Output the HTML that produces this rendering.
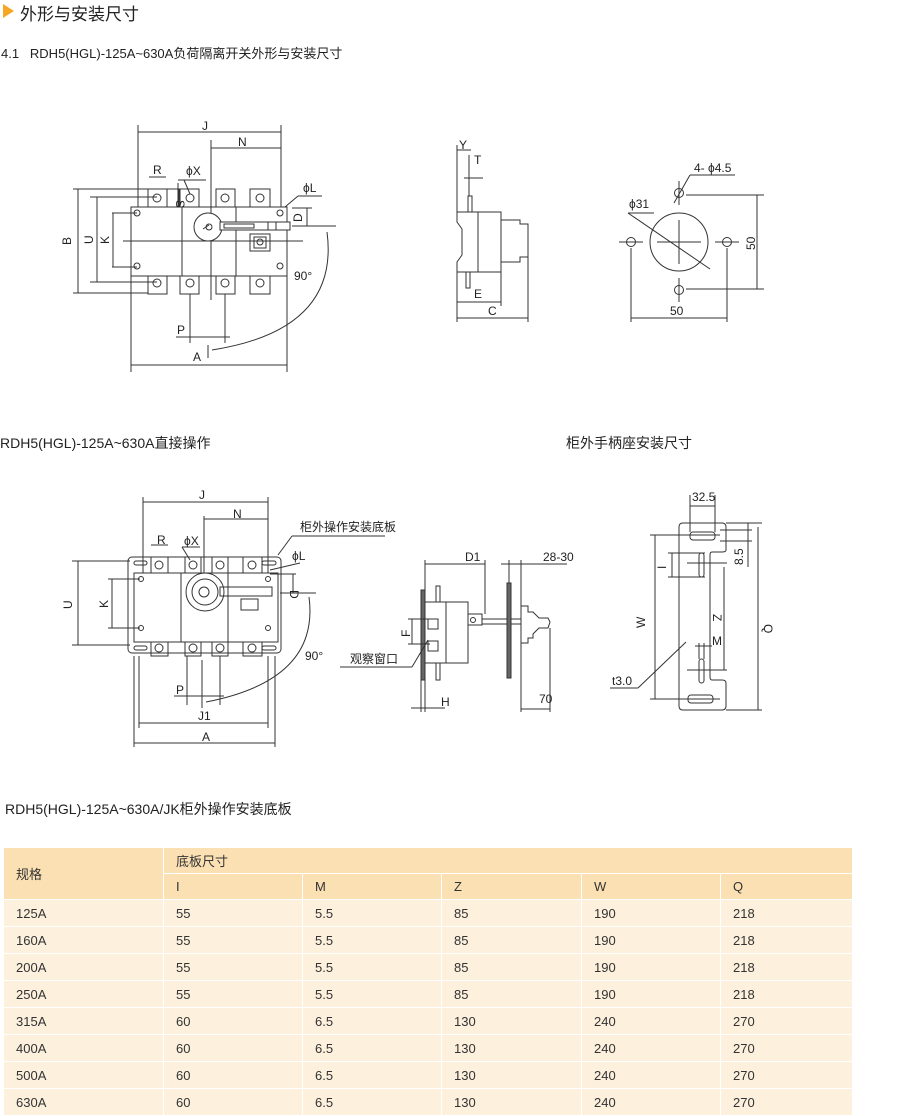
<!DOCTYPE html>
<html><head><meta charset="utf-8"><style>
body{margin:0;width:900px;height:1115px;background:#fff;position:relative;overflow:hidden;font-family:"Liberation Sans","Noto Sans CJK SC",sans-serif;color:#222}
.t{position:absolute;white-space:nowrap}
table{position:absolute;left:3px;top:847px;width:850px;border-collapse:collapse;font-size:13px;color:#333}
td{height:26px;padding:0 0 0 12px;border:1px solid #fff;background:#fdf1de}
tr.h td{background:#fbe0b3;height:25px}
</style></head><body>
<div style="position:absolute;left:3px;top:4px;width:0;height:0;border-top:7px solid transparent;border-bottom:7px solid transparent;border-left:11px solid #f5a623"></div>
<div class="t" style="left:20px;top:0px;font-size:17px">外形与安装尺寸</div>
<div class="t" style="left:1px;top:43px;font-size:13px">4.1&nbsp;&nbsp; RDH5(HGL)-125A~630A负荷隔离开关外形与安装尺寸</div>
<div class="t" style="left:0px;top:433px;font-size:14px">RDH5(HGL)-125A~630A直接操作</div>
<div class="t" style="left:566px;top:433px;font-size:14px">柜外手柄座安装尺寸</div>
<div class="t" style="left:5px;top:799px;font-size:14px">RDH5(HGL)-125A~630A/JK柜外操作安装底板</div>

<svg width="900" height="840" style="position:absolute;left:0;top:0" font-family="Liberation Sans,Noto Sans CJK SC,sans-serif" font-size="12" fill="none" stroke="#333" stroke-width="1">
<!-- Drawing 1 -->
<g>
<rect x="131" y="207" width="156" height="69"/>
<line x1="182" y1="207" x2="182" y2="276"/><line x1="236" y1="207" x2="236" y2="276"/>
<rect x="148" y="189" width="19" height="18"/><rect x="167" y="189" width="12" height="18"/><rect x="180" y="189" width="19" height="18"/><rect x="216" y="189" width="19" height="18"/><rect x="250" y="189" width="20" height="18"/>
<rect x="148" y="276" width="19" height="18"/><rect x="180" y="276" width="19" height="18"/><rect x="216" y="276" width="19" height="18"/><rect x="250" y="276" width="20" height="18"/>
<circle cx="157" cy="198" r="4"/><circle cx="190" cy="198" r="4"/><circle cx="225" cy="198" r="4"/><circle cx="260" cy="198" r="4"/>
<circle cx="157" cy="283" r="4"/><circle cx="190" cy="283" r="4"/><circle cx="225" cy="283" r="4"/><circle cx="260" cy="283" r="4"/>
<circle cx="137" cy="213" r="3"/><circle cx="137" cy="266" r="3"/><circle cx="280" cy="213" r="3"/><circle cx="280" cy="266" r="3"/>
<circle cx="208" cy="227" r="14" fill="#fff"/><circle cx="209" cy="227" r="3"/><line x1="203" y1="229" x2="209" y2="225"/>
<rect x="220" y="222" width="70" height="8" fill="#fff"/><rect x="224" y="224" width="30" height="4"/><line x1="268" y1="222" x2="268" y2="230"/><line x1="276" y1="222" x2="276" y2="230"/>
<rect x="250" y="234" width="20" height="17"/><rect x="254" y="237" width="12" height="11"/><circle cx="260" cy="242" r="3"/>
<line x1="123" y1="241" x2="303" y2="241"/>
<line x1="138" y1="125" x2="138" y2="207"/><line x1="281" y1="125" x2="281" y2="207"/><line x1="138" y1="132" x2="281" y2="132"/>
<line x1="211" y1="140" x2="211" y2="213"/><line x1="211" y1="241" x2="211" y2="300"/><line x1="211" y1="148" x2="281" y2="148"/>
<line x1="149" y1="177" x2="166" y2="177"/><line x1="178" y1="180" x2="206" y2="180"/><line x1="184" y1="180" x2="190" y2="194"/>
<line x1="178" y1="183" x2="178" y2="207"/>
<line x1="73" y1="189" x2="148" y2="189"/><line x1="73" y1="293" x2="148" y2="293"/><line x1="78" y1="189" x2="78" y2="293"/>
<line x1="90" y1="197" x2="157" y2="197"/><line x1="90" y1="282" x2="157" y2="282"/><line x1="97" y1="197" x2="97" y2="282"/>
<line x1="112" y1="213" x2="137" y2="213"/><line x1="112" y1="267" x2="137" y2="267"/><line x1="113" y1="213" x2="113" y2="267"/>
<line x1="292" y1="208" x2="312" y2="208"/><line x1="292" y1="226" x2="336" y2="226"/><line x1="307" y1="208" x2="307" y2="226"/>
<line x1="285" y1="207" x2="298" y2="196"/><line x1="298" y1="196" x2="322" y2="196"/>
<path d="M327 232 Q340 330 212 350"/>
<line x1="190" y1="294" x2="190" y2="343"/><line x1="225" y1="294" x2="225" y2="343"/><line x1="176" y1="337" x2="230" y2="337"/>
<line x1="131" y1="276" x2="131" y2="372"/><line x1="287" y1="276" x2="287" y2="372"/><line x1="131" y1="365" x2="287" y2="365"/>
<line x1="208" y1="345" x2="208" y2="358"/>
</g>
<g fill="#222" stroke="none">
<text x="202" y="130">J</text><text x="238" y="146">N</text><text x="153" y="174">R</text><text x="186" y="175">ϕX</text>
<text x="303" y="192">ϕL</text><text x="294" y="280">90°</text><text x="177" y="334">P</text><text x="193" y="361">A</text>
<text transform="translate(71,245) rotate(-90)">B</text><text transform="translate(93,244) rotate(-90)">U</text><text transform="translate(109,244) rotate(-90)">K</text>
<text transform="translate(302,222) rotate(-90)">D</text><text transform="translate(176,200) rotate(90)">S</text>
</g>
<!-- Drawing 2 side -->
<g>
<path d="M457 212 H501 V272 H457 V262 L462 255 V229 L457 222 Z"/><line x1="478" y1="212" x2="478" y2="272"/>
<path d="M501 220 H520 V224 H528 V257 H520 V262 H501"/>
<rect x="468" y="196" width="4" height="16"/><rect x="466" y="272" width="4" height="16"/>
<line x1="469" y1="155" x2="469" y2="196"/><line x1="457" y1="145" x2="457" y2="212"/><line x1="457" y1="150" x2="471" y2="150"/>
<line x1="464" y1="178" x2="483" y2="178"/>
<line x1="457" y1="272" x2="457" y2="322"/><line x1="501" y1="272" x2="501" y2="306"/><line x1="528" y1="257" x2="528" y2="322"/>
<line x1="457" y1="302" x2="501" y2="302"/><line x1="457" y1="318" x2="528" y2="318"/>
</g>
<g fill="#222" stroke="none"><text x="459" y="149">Y</text><text x="474" y="164">T</text><text x="474" y="298">E</text><text x="488" y="315">C</text></g>
<!-- Drawing 3 -->
<g>
<circle cx="679" cy="242" r="29"/><line x1="657" y1="242" x2="701" y2="242"/><line x1="679" y1="220" x2="679" y2="264"/>
<line x1="628" y1="213" x2="710" y2="269"/><line x1="628" y1="213" x2="654" y2="213"/>
<circle cx="679" cy="193" r="4.5"/><circle cx="631" cy="242" r="4.5"/><circle cx="727" cy="242" r="4.5"/><circle cx="679" cy="290" r="4.5"/>
<line x1="679" y1="181" x2="679" y2="205"/><line x1="619" y1="242" x2="643" y2="242"/><line x1="715" y1="242" x2="739" y2="242"/><line x1="679" y1="278" x2="679" y2="302"/>
<line x1="674" y1="203" x2="690" y2="175"/><line x1="690" y1="175" x2="735" y2="175"/>
<line x1="686" y1="195" x2="764" y2="195"/><line x1="686" y1="289" x2="764" y2="289"/><line x1="757" y1="195" x2="757" y2="289"/>
<line x1="631" y1="248" x2="631" y2="322"/><line x1="727" y1="248" x2="727" y2="322"/><line x1="631" y1="318" x2="727" y2="318"/>
</g>
<g fill="#222" stroke="none"><text x="694" y="172">4- ϕ4.5</text><text x="629" y="208">ϕ31</text><text x="670" y="315">50</text><text transform="translate(755,250) rotate(-90)">50</text></g>
<!-- Drawing 4 -->
<g>
<rect x="128" y="557" width="153" height="96" rx="4"/>
<rect x="134" y="573" width="144" height="69"/><line x1="181" y1="573" x2="181" y2="642"/><line x1="228" y1="573" x2="228" y2="642"/>
<rect x="151" y="557" width="17" height="16"/><rect x="185" y="557" width="16" height="16"/><rect x="212" y="557" width="16" height="16"/><rect x="243" y="557" width="19" height="16"/>
<rect x="151" y="642" width="17" height="14"/><rect x="185" y="642" width="16" height="14"/><rect x="212" y="642" width="16" height="14"/><rect x="243" y="642" width="19" height="14"/>
<circle cx="159" cy="565" r="4"/><circle cx="193" cy="565" r="4"/><circle cx="220" cy="565" r="4"/><circle cx="252" cy="565" r="4"/>
<circle cx="159" cy="648" r="4"/><circle cx="193" cy="648" r="4"/><circle cx="220" cy="648" r="4"/><circle cx="252" cy="648" r="4"/>
<rect x="134" y="561" width="13" height="4" rx="2"/><rect x="262" y="561" width="14" height="4" rx="2"/><rect x="134" y="646" width="13" height="4" rx="2"/><rect x="262" y="646" width="14" height="4" rx="2"/>
<circle cx="141" cy="579" r="2.5"/><circle cx="141" cy="628" r="2.5"/><circle cx="268" cy="579" r="2.5"/><circle cx="268" cy="628" r="2.5"/>
<circle cx="205" cy="592" r="19"/><circle cx="205" cy="592" r="13"/><circle cx="204" cy="592" r="5"/>
<rect x="220" y="587" width="52" height="9"/><rect x="241" y="599" width="17" height="11"/>
<line x1="143" y1="497" x2="143" y2="573"/><line x1="268" y1="497" x2="268" y2="573"/><line x1="143" y1="502" x2="268" y2="502"/>
<line x1="204" y1="516" x2="204" y2="573"/><line x1="204" y1="519" x2="268" y2="519"/>
<line x1="151" y1="545" x2="168" y2="545"/><line x1="182" y1="547" x2="200" y2="547"/><line x1="182" y1="547" x2="190" y2="560"/>
<line x1="278" y1="555" x2="292" y2="536"/><line x1="292" y1="536" x2="385" y2="536"/>
<line x1="270" y1="570" x2="300" y2="563"/>
<line x1="72" y1="561" x2="130" y2="561"/><line x1="72" y1="645" x2="130" y2="645"/><line x1="78" y1="561" x2="78" y2="645"/>
<line x1="108" y1="579" x2="140" y2="579"/><line x1="108" y1="628" x2="140" y2="628"/><line x1="112" y1="579" x2="112" y2="628"/>
<line x1="270" y1="574" x2="296" y2="574"/><line x1="280" y1="593" x2="316" y2="593"/><line x1="293" y1="574" x2="293" y2="593"/>
<path d="M309 597 Q320 680 206 702"/>
<line x1="187" y1="656" x2="187" y2="705"/><line x1="220" y1="656" x2="220" y2="705"/><line x1="174" y1="696" x2="224" y2="696"/>
<line x1="202" y1="660" x2="202" y2="708"/>
<line x1="139" y1="656" x2="139" y2="728"/><line x1="268" y1="656" x2="268" y2="728"/><line x1="139" y1="723" x2="268" y2="723"/>
<line x1="134" y1="656" x2="134" y2="747"/><line x1="275" y1="656" x2="275" y2="747"/><line x1="134" y1="743" x2="275" y2="743"/>
</g>
<g fill="#222" stroke="none">
<text x="199" y="499">J</text><text x="233" y="518">N</text><text x="157" y="544">R</text><text x="184" y="545">ϕX</text>
<text x="300" y="531">柜外操作安装底板</text><text x="292" y="560">ϕL</text><text x="305" y="660">90°</text><text x="176" y="694">P</text>
<text x="198" y="720">J1</text><text x="202" y="741">A</text>
<text transform="translate(72,609) rotate(-90)">U</text><text transform="translate(108,608) rotate(-90)">K</text><text transform="translate(290,590) rotate(90)">D</text>
</g>
<!-- Drawing 5 side operation -->
<g>
<rect x="421" y="590" width="4" height="90" fill="#666"/>
<rect x="425" y="602" width="43" height="61"/><line x1="446" y1="602" x2="446" y2="663"/>
<rect x="436" y="586" width="4" height="16"/><rect x="436" y="663" width="4" height="17"/>
<rect x="428" y="619" width="10" height="10"/><rect x="428" y="641" width="10" height="10"/>
<rect x="468" y="614" width="14" height="11"/><circle cx="473" cy="620" r="2.5"/>
<line x1="482" y1="619" x2="507" y2="619"/><line x1="482" y1="624" x2="507" y2="624"/><line x1="511" y1="619" x2="521" y2="619"/><line x1="511" y1="624" x2="521" y2="624"/>
<rect x="507" y="583" width="4" height="95" fill="#666"/>
<path d="M521 606 H528 V612 H533 L539 618 H548 L550 622 L548 628 H539 L533 634 V638 H528 V643 H521 Z"/>
<line x1="425" y1="560" x2="425" y2="600"/><line x1="485" y1="560" x2="485" y2="614"/><line x1="425" y1="564" x2="485" y2="564"/>
<line x1="509" y1="560" x2="509" y2="583"/><line x1="521" y1="560" x2="521" y2="606"/><line x1="501" y1="564" x2="567" y2="564"/>
<line x1="421" y1="680" x2="421" y2="712"/><line x1="425" y1="680" x2="425" y2="712"/><line x1="411" y1="708" x2="445" y2="708"/>
<line x1="521" y1="643" x2="521" y2="712"/><line x1="550" y1="628" x2="550" y2="712"/><line x1="521" y1="709" x2="550" y2="709"/>
<line x1="408" y1="619" x2="430" y2="619"/><line x1="408" y1="644" x2="430" y2="644"/><line x1="412" y1="619" x2="412" y2="644"/>
<line x1="340" y1="667" x2="412" y2="667"/><line x1="412" y1="667" x2="428" y2="640"/>
</g>
<g fill="#222" stroke="none"><text x="465" y="561">D1</text><text x="543" y="561">28-30</text><text x="441" y="706">H</text><text x="539" y="703">70</text>
<text x="350" y="663">观察窗口</text><text transform="translate(410,637) rotate(-90)">F</text></g>
<!-- Drawing 6 bracket -->
<g>
<path d="M683 523 H722 Q726 523 726 527 V550 Q726 552 722 552 H712 Q710 552 710 555 V677 Q710 680 712 680 H722 Q726 680 726 683 V706 Q726 710 722 710 H683 Q679 710 679 706 V527 Q679 523 683 523 Z"/>
<rect x="690" y="532" width="25" height="8" rx="3"/><rect x="688" y="695" width="25" height="8" rx="3"/>
<rect x="699" y="553" width="5" height="24" rx="2.5"/><rect x="699" y="659" width="5" height="24" rx="2.5"/>
<line x1="690" y1="495" x2="690" y2="532"/><line x1="715" y1="495" x2="715" y2="532"/><line x1="690" y1="506" x2="715" y2="506"/>
<line x1="726" y1="523" x2="762" y2="523"/><line x1="720" y1="530" x2="752" y2="530"/><line x1="720" y1="541" x2="752" y2="541"/>
<line x1="748" y1="523" x2="748" y2="567"/>
<line x1="726" y1="710" x2="762" y2="710"/><line x1="758" y1="527" x2="758" y2="710"/>
<line x1="650" y1="535" x2="720" y2="535"/><line x1="650" y1="699" x2="720" y2="699"/><line x1="655" y1="535" x2="655" y2="699"/>
<line x1="668" y1="553" x2="705" y2="553"/><line x1="668" y1="577" x2="705" y2="577"/><line x1="672" y1="553" x2="672" y2="577"/>
<line x1="687" y1="563" x2="727" y2="563"/><line x1="687" y1="670" x2="727" y2="670"/><line x1="724" y1="567" x2="724" y2="670"/>
<line x1="699" y1="643" x2="699" y2="659"/><line x1="704" y1="643" x2="704" y2="659"/><line x1="695" y1="646" x2="712" y2="646"/>
<line x1="610" y1="688" x2="638" y2="688"/><line x1="638" y1="688" x2="686" y2="642"/>
</g>
<g fill="#222" stroke="none"><text x="692" y="501">32.5</text><text transform="translate(743,565) rotate(-90)">8.5</text>
<text transform="translate(764,624) rotate(90)">Q</text><text transform="translate(645,628) rotate(-90)">W</text>
<text transform="translate(713,614) rotate(90)">Z</text><text x="712" y="645">M</text><text transform="translate(666,569) rotate(-90)">I</text><text x="612" y="685">t3.0</text></g>
</svg>

<table>
<tr class="h"><td rowspan="2" style="width:147px">规格</td><td colspan="5">底板尺寸</td></tr>
<tr class="h"><td style="width:126px">I</td><td style="width:126px">M</td><td style="width:127px">Z</td><td style="width:126px">W</td><td>Q</td></tr>
<tr><td>125A</td><td>55</td><td>5.5</td><td>85</td><td>190</td><td>218</td></tr>
<tr><td>160A</td><td>55</td><td>5.5</td><td>85</td><td>190</td><td>218</td></tr>
<tr><td>200A</td><td>55</td><td>5.5</td><td>85</td><td>190</td><td>218</td></tr>
<tr><td>250A</td><td>55</td><td>5.5</td><td>85</td><td>190</td><td>218</td></tr>
<tr><td>315A</td><td>60</td><td>6.5</td><td>130</td><td>240</td><td>270</td></tr>
<tr><td>400A</td><td>60</td><td>6.5</td><td>130</td><td>240</td><td>270</td></tr>
<tr><td>500A</td><td>60</td><td>6.5</td><td>130</td><td>240</td><td>270</td></tr>
<tr><td>630A</td><td>60</td><td>6.5</td><td>130</td><td>240</td><td>270</td></tr>
</table>
</body></html>
